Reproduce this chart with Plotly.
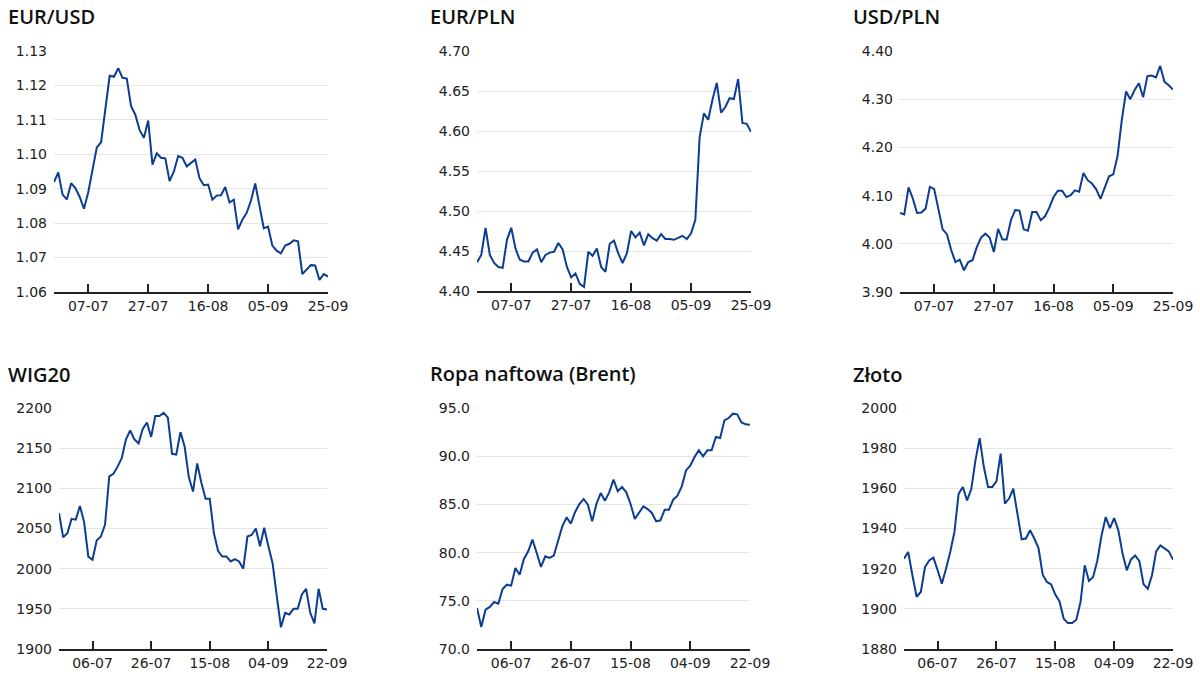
import pandas as pd
import plotly.graph_objects as go

W, H = 1200, 678

# business days shown on the two rows
UPPER_DATES = pd.bdate_range("2023-06-27", "2023-09-25").strftime("%d-%m").tolist()
LOWER_DATES = pd.bdate_range("2023-06-26", "2023-09-22").strftime("%d-%m").tolist()

UPPER_TICKS = ["07-07", "27-07", "16-08", "05-09", "25-09"]
LOWER_TICKS = ["06-07", "26-07", "15-08", "04-09", "22-09"]

EUR_USD = [
    1.0919, 1.0947, 1.0883, 1.0869, 1.0916, 1.0902, 1.0876, 1.0842, 1.0890, 1.0950,
    1.1020, 1.1035, 1.1130, 1.1228, 1.1225, 1.1250, 1.1222, 1.1220, 1.1140, 1.1115,
    1.1070, 1.1048, 1.1098, 1.0970, 1.1003, 1.0990, 1.0988, 1.0922, 1.0950, 1.0995,
    1.0990, 1.0965, 1.0975, 1.0985, 1.0930, 1.0910, 1.0912, 1.0868, 1.0880, 1.0881,
    1.0905, 1.0860, 1.0868, 1.0782, 1.0810, 1.0830, 1.0865, 1.0915, 1.0850, 1.0785,
    1.0790, 1.0735, 1.0720, 1.0712, 1.0735, 1.0740, 1.0750, 1.0747, 1.0652, 1.0665,
    1.0678, 1.0677, 1.0635, 1.0652, 1.0645,
]

EUR_PLN = [
    4.436, 4.445, 4.479, 4.445, 4.435, 4.430, 4.429, 4.464, 4.479, 4.453,
    4.439, 4.437, 4.437, 4.448, 4.452, 4.436, 4.445, 4.448, 4.449, 4.460,
    4.452, 4.430, 4.417, 4.422, 4.409, 4.405, 4.449, 4.444, 4.453, 4.430,
    4.424, 4.459, 4.463, 4.447, 4.435, 4.447, 4.475, 4.467, 4.473, 4.457,
    4.471, 4.466, 4.463, 4.471, 4.465, 4.465, 4.464, 4.466, 4.469, 4.465,
    4.472, 4.489, 4.592, 4.622, 4.614, 4.639, 4.660, 4.623, 4.630, 4.641,
    4.640, 4.665, 4.610, 4.609, 4.599,
]

USD_PLN = [
    4.064, 4.061, 4.117, 4.094, 4.064, 4.065, 4.073, 4.118, 4.114, 4.071,
    4.030, 4.020, 3.987, 3.962, 3.967, 3.945, 3.962, 3.966, 3.993, 4.013,
    4.021, 4.013, 3.983, 4.031, 4.009, 4.009, 4.049, 4.070, 4.069, 4.030,
    4.027, 4.066, 4.066, 4.049, 4.057, 4.075, 4.097, 4.110, 4.110, 4.097,
    4.101, 4.111, 4.108, 4.147, 4.132, 4.125, 4.113, 4.093, 4.118, 4.140,
    4.144, 4.182, 4.257, 4.316, 4.300, 4.319, 4.333, 4.304, 4.348, 4.349,
    4.345, 4.369, 4.336, 4.329, 4.320,
]

WIG20 = [
    2069, 2039, 2044, 2062, 2061, 2078, 2058, 2015, 2011, 2035,
    2040, 2055, 2115, 2118, 2127, 2138, 2161, 2172, 2161, 2156,
    2174, 2182, 2164, 2190, 2190, 2194, 2188, 2143, 2142, 2170,
    2152, 2114, 2096, 2131, 2107, 2087, 2087, 2044, 2022, 2015,
    2015, 2009, 2012, 2009, 2000, 2040, 2042, 2050, 2028, 2051,
    2028, 2007, 1966, 1927, 1945, 1943, 1950, 1950, 1968, 1975,
    1945, 1932, 1975, 1950, 1949,
]

BRENT = [
    74.25, 72.28, 74.08, 74.36, 74.87, 74.70, 76.22, 76.67, 76.57, 78.40,
    77.71, 79.34, 80.13, 81.34, 79.96, 78.51, 79.61, 79.44, 79.68, 81.17,
    82.72, 83.66, 83.00, 84.21, 85.04, 85.56, 84.97, 83.24, 85.04, 86.18,
    85.39, 86.25, 87.57, 86.36, 86.80, 86.25, 85.04, 83.49, 84.11, 84.80,
    84.52, 84.11, 83.24, 83.35, 84.45, 84.45, 85.49, 85.91, 86.87, 88.53,
    89.02, 89.92, 90.61, 89.99, 90.61, 90.61, 91.99, 91.89, 93.72, 93.96,
    94.41, 94.34, 93.51, 93.31, 93.27,
]

GOLD = [
    1925.0, 1928.3, 1916.7, 1906.0, 1908.4, 1920.8, 1924.1, 1925.5, 1919.2, 1912.5,
    1920.0, 1928.3, 1938.3, 1957.3, 1960.7, 1954.0, 1959.5, 1973.9, 1985.0, 1970.6,
    1960.7, 1960.7, 1963.5, 1977.3, 1952.4, 1954.9, 1959.8, 1947.4, 1934.6, 1935.0,
    1939.1, 1935.0, 1930.3, 1917.0, 1913.4, 1912.2, 1907.1, 1903.7, 1895.1, 1892.9,
    1892.9, 1894.6, 1903.4, 1921.7, 1913.9, 1915.9, 1924.1, 1936.6, 1945.7, 1940.2,
    1945.2, 1939.1, 1927.5, 1919.2, 1924.6, 1926.6, 1923.7, 1912.2, 1910.0, 1916.7,
    1928.6, 1931.6, 1930.3, 1928.6, 1924.5,
]

LINE_COLOR = "#0b3d91"
TEXT_COLOR = "#222222"
GRID_COLOR = "#e6e6e6"

# title, dates, ticks, values, y range, y step, y format,
# plot box in px (x0, x1, ytop, ybottom), title position in px (x, y)
PANELS = [
    ("EUR/USD", UPPER_DATES, UPPER_TICKS, EUR_USD, (1.06, 1.13), 0.01, ".2f", (54, 328, 51, 292), (6, 17)),
    ("EUR/PLN", UPPER_DATES, UPPER_TICKS, EUR_PLN, (4.40, 4.70), 0.05, ".2f", (477, 751, 51, 291), (428, 17)),
    ("USD/PLN", UPPER_DATES, UPPER_TICKS, USD_PLN, (3.90, 4.40), 0.10, ".2f", (900, 1173, 51, 292), (851, 17)),
    ("WIG20", LOWER_DATES, LOWER_TICKS, WIG20, (1900, 2200), 50, "d", (59, 327, 408, 649), (6, 374)),
    ("Ropa naftowa (Brent)", LOWER_DATES, LOWER_TICKS, BRENT, (70, 95), 5, ".1f", (477, 750, 408, 649), (428, 373)),
    ("Złoto", LOWER_DATES, LOWER_TICKS, GOLD, (1880, 2000), 20, "d", (904, 1173, 408, 649), (851, 374)),
]

fig = go.Figure()
annotations = []
layout = {}

for n, (title, dates, ticks, values, yrange, dtick, fmt, box, tpos) in enumerate(PANELS, start=1):
    suffix = "" if n == 1 else str(n)
    x0, x1, ytop, ybot = box

    fig.add_trace(
        go.Scatter(
            x=dates,
            y=values,
            mode="lines",
            line={"color": LINE_COLOR, "width": 2},
            xaxis=f"x{suffix}",
            yaxis=f"y{suffix}",
            showlegend=False,
        )
    )

    layout[f"xaxis{suffix}"] = dict(
        domain=[x0 / W, x1 / W],
        anchor=f"y{suffix}",
        automargin=False,
        type="category",
        range=[0, len(dates) - 1],
        tickmode="array",
        tickvals=ticks,
        ticktext=ticks,
        ticks="inside",
        ticklen=8,
        tickwidth=1.5,
        tickcolor=TEXT_COLOR,
        showline=True,
        linecolor=TEXT_COLOR,
        linewidth=2,
        showgrid=False,
        zeroline=False,
        ticklabelstandoff=0,
        tickfont={"family": "DejaVu Sans", "size": 14, "color": TEXT_COLOR},
    )
    layout[f"yaxis{suffix}"] = dict(
        domain=[1 - ybot / H, 1 - ytop / H],
        anchor=f"x{suffix}",
        automargin=False,
        range=list(yrange),
        dtick=dtick,
        tick0=yrange[0],
        tickformat=fmt,
        showgrid=True,
        gridcolor=GRID_COLOR,
        gridwidth=1,
        showline=False,
        zeroline=False,
        ticks="",
        ticklabelstandoff=6,
        tickfont={"family": "DejaVu Sans", "size": 14, "color": TEXT_COLOR},
    )

    annotations.append(
        dict(
            text=title,
            x=tpos[0] / W,
            y=1 - tpos[1] / H,
            xref="paper",
            yref="paper",
            xanchor="left",
            yanchor="middle",
            showarrow=False,
            font={"family": "Open Sans", "size": 20, "color": "#111111", "weight": 600},
        )
    )

fig.update_layout(
    width=W,
    height=H,
    margin={"l": 0, "r": 0, "t": 0, "b": 0},
    paper_bgcolor="white",
    plot_bgcolor="white",
    annotations=annotations,
    **layout,
)

# drop the default page margin so the figure sits flush in the window
fig.write_html(
    "out.html",
    config={"displayModeBar": False},
    post_script="document.body.style.margin = '0';",
)
